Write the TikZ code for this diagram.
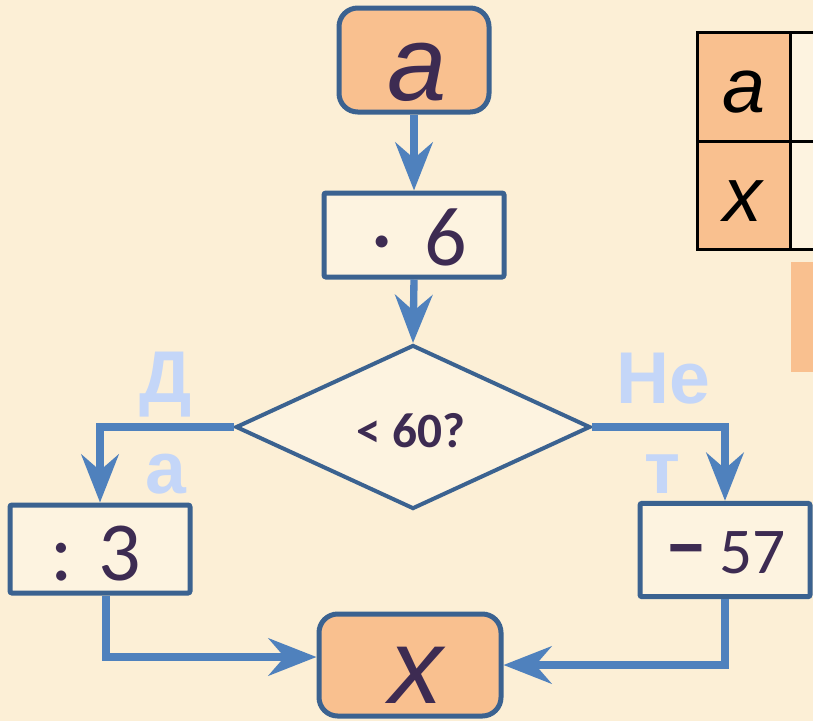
\documentclass[tikz,border=0pt]{standalone}
\usepackage{fontspec}
\setmainfont{Liberation Sans}
\newfontfamily\calib{Carlito}
\usetikzlibrary{shapes.geometric,arrows.meta,calc}
\definecolor{bg}{HTML}{FCEFD6}
\definecolor{peach}{HTML}{F9C08F}
\definecolor{bordc}{HTML}{3B6290}
\definecolor{arrowc}{HTML}{4F81BD}
\definecolor{ink}{HTML}{3D2B52}
\definecolor{lbl}{HTML}{C4D6F8}
\definecolor{cream}{HTML}{FDF3E0}
\begin{document}
\begin{tikzpicture}[x=0.75pt,y=-0.75pt,
  termbox/.style={draw=bordc, fill=peach, line width=3.75pt, rounded corners=14pt,
    minimum width=112.5pt, minimum height=78pt, inner sep=0pt},
  opbox/.style={draw=bordc, fill=cream, line width=3.75pt, rounded corners=1.5pt, inner sep=0pt},
  flow/.style={draw=arrowc, line width=5.5pt, -{Stealth[length=36pt,width=28pt,inset=12pt]}},
  bigital/.style={inner sep=0pt, anchor=base, text=ink, font=\fontsize{80}{80}\selectfont\itshape},
  calnum/.style={inner sep=0pt, anchor=base east, text=ink, font=\calib\fontsize{63}{63}\selectfont},
  branchlbl/.style={inner sep=0pt, anchor=base, text=lbl, font=\fontsize{55}{55}\selectfont\bfseries},
  tabtxt/.style={inner sep=0pt, anchor=base, text=black, font=\fontsize{58}{58}\selectfont\itshape},
]
\fill[bg] (0,0) rectangle (813,721);
\useasboundingbox (0,0) rectangle (813,721);

% table
\fill[peach] (697,32) rectangle (790,249);
\fill[cream] (790,32) rectangle (815,249);
\draw[black, line width=2.25pt] (815,32) -- (697,32) -- (697,249) -- (815,249);
\draw[black, line width=2.25pt] (697,141) -- (815,141);
\draw[black, line width=2.25pt] (790,32) -- (790,249);
\node[tabtxt] (tabA) at (744,112) {a};
\node[tabtxt] (tabX) at (743,221) {x};
\fill[peach] (791,262) rectangle (813,372);

% boxes
\node[termbox] (boxA) at (414,60) {};
\node[opbox, minimum width=135pt, minimum height=63pt] (box6) at (414,235) {};
\node[draw=bordc, fill=cream, line width=3pt, shape=diamond, inner sep=0pt,
      minimum width=266pt, minimum height=123pt] (dia) at (413,427) {};
\node[opbox, minimum width=135pt, minimum height=66pt] (box3) at (100,549) {};
\node[opbox, minimum width=127.5pt, minimum height=70pt] (box57) at (725,550) {};
\node[termbox, minimum width=136.5pt, minimum height=76.5pt] (boxX) at (410,665) {};

% texts
\node[bigital] (tA) at (417,100) {a};
\node[calnum] (t6) at (467,265) {·\hspace{0.15em} 6};
\node[inner sep=0pt, anchor=base, text=ink, font=\calib\bfseries\fontsize{37}{37}\selectfont] (tq) at (411,447) {< 60?};
\node[calnum] (t3) at (141,580) {: 3};
\node[inner sep=0pt, anchor=base east, text=ink] (t57) at (786,573)
  {{\calib\bfseries\fontsize{60}{60}\selectfont −}\hspace{10pt}{\calib\fontsize{49}{49}\selectfont 57}};
\node[bigital] (tX) at (416,703) {x};

% branch labels
\node[branchlbl] (lD) at (166,402) {Д};
\node[branchlbl] (la) at (166,493) {а};
\node[branchlbl] (lNe) at (663,403) {Не};
\node[branchlbl] (lt) at (662,493) {т};

% connectors
\draw[flow] (boxA.south) -- (box6.north);
\draw[flow] (box6.south) -- (dia.north);
\draw[flow] (dia.west) -| (box3.north);
\draw[flow] (dia.east) -| (box57.north);
\draw[flow] ([xshift=4.5pt]box3.south) |- ([yshift=6pt]boxX.west);
\draw[flow] (box57.south) |- (boxX.east);
\end{tikzpicture}
\end{document}
